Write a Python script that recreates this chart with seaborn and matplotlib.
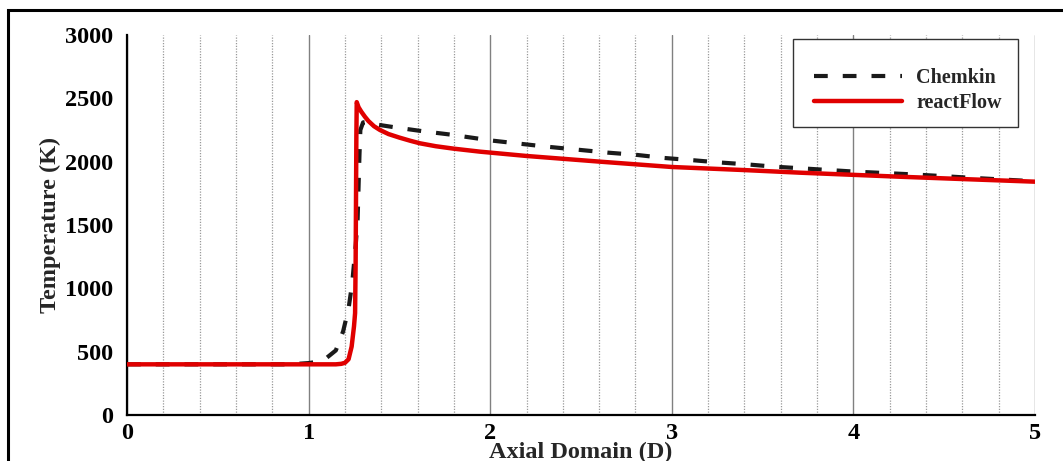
import matplotlib
matplotlib.use("Agg")
import matplotlib.pyplot as plt
from matplotlib.patches import Rectangle
from matplotlib.ticker import MultipleLocator
import numpy as np
import pandas as pd
import seaborn as sns

# Chemkin reference solution: axial position (D) vs temperature (K)
chemkin_x = [0.0, 0.9, 1.0, 1.05, 1.1, 1.15, 1.19, 1.22, 1.24, 1.26, 1.27,
             1.275, 1.28, 1.285, 1.3, 1.33, 1.38, 1.48, 1.63, 1.78, 1.92,
             2.0, 2.3, 2.65, 2.81, 2.96, 3.12, 3.25, 3.41, 3.56, 4.0, 4.32,
             4.48, 4.63, 5.0]
chemkin_T = [400, 400, 410, 420, 452, 510, 660, 840, 1040, 1350, 1550,
             1800, 2050, 2250, 2310, 2316, 2292, 2270, 2240, 2214, 2185,
             2168, 2120, 2071, 2053, 2029, 2011, 1995, 1979, 1961, 1922, 1900,
             1887, 1874, 1845]

# reactFlow solution
react_x = [0.0, 1.1, 1.15, 1.18, 1.2, 1.22, 1.237, 1.25, 1.256, 1.259,
           1.261, 1.263, 1.265, 1.275, 1.29, 1.31, 1.33, 1.36, 1.393,
           1.44, 1.5, 1.56, 1.613, 1.7, 1.797, 1.944, 2.2, 2.605, 3.0,
           3.394, 3.706, 4.257, 4.596, 5.0]
react_T = [400, 400, 400, 404, 412, 440, 540, 700, 805, 1200,
           1700, 2200, 2470, 2430, 2395, 2355, 2320, 2280, 2250,
           2218, 2190, 2165, 2145, 2122, 2103, 2079, 2045, 2000, 1958,
           1934, 1913, 1881, 1863, 1842]

series_names = ["Chemkin", "reactFlow"]
x_ticks = [0, 1, 2, 3, 4, 5]
y_ticks = [0, 500, 1000, 1500, 2000, 2500, 3000]

sns.set_style("white")
plt.rcParams["font.family"] = ["Liberation Serif", "DejaVu Serif"]
plt.rcParams["font.weight"] = "bold"

fig = plt.figure(figsize=(10.63, 4.61), dpi=100)
ax = fig.add_axes([127 / 1063, 1 - 415 / 461, 908 / 1063, 380 / 461])

df_chem = pd.DataFrame({"x": chemkin_x, "T": chemkin_T})
df_react = pd.DataFrame({"x": react_x, "T": react_T})

sns.lineplot(data=df_chem, x="x", y="T", ax=ax, color="#1a1a1a", lw=3,
             linestyle=(0, (3.3, 3.6)), label=series_names[0], zorder=3,
             estimator=None, sort=False)
sns.lineplot(data=df_react, x="x", y="T", ax=ax, color="#e00000", lw=3.2,
             label=series_names[1], zorder=4, estimator=None, sort=False)

ax.set_xlim(0, 5)
ax.set_ylim(0, 3000)
ax.set_xticks(x_ticks)
ax.set_yticks(y_ticks)
ax.xaxis.set_minor_locator(MultipleLocator(0.2))
ax.yaxis.set_minor_locator(MultipleLocator(100))

# vertical grid: solid at integers, dotted at 0.2 steps
ax.grid(False)
ax.xaxis.grid(True, which="major", color="#808080", lw=1.0, ls="-", zorder=0)
ax.xaxis.grid(True, which="minor", color="#999999", lw=0.9, ls=(0, (1, 1.2)), zorder=0)
ax.set_axisbelow(True)

for side in ("top", "right"):
    ax.spines[side].set_visible(False)
for side in ("left", "bottom"):
    ax.spines[side].set_color("black")
    ax.spines[side].set_linewidth(1.6)

ax.tick_params(axis="both", which="major", direction="in", labelsize=17.5,
               width=1.5, colors="black")
ax.tick_params(axis="y", which="major", length=8, pad=10)
ax.tick_params(axis="y", which="minor", direction="in", length=5, width=1.2)
ax.tick_params(axis="x", which="major", length=6, pad=6)
ax.tick_params(axis="x", which="minor", length=0)
for lab in ax.get_xticklabels() + ax.get_yticklabels():
    lab.set_fontweight("bold")

ax.set_xlabel("Axial Domain (D)", fontsize=17.5, fontweight="bold", labelpad=-2)
ax.set_ylabel("Temperature (K)", fontsize=17.5, fontweight="bold", labelpad=3)

# legend box
box = Rectangle((0.733, 0.758), 0.248, 0.231, transform=ax.transAxes,
                facecolor="white", edgecolor="#333333", lw=1.0, zorder=5)
ax.add_patch(box)
leg = ax.legend(loc="center left", bbox_to_anchor=(0.745, 0.855), frameon=False,
                fontsize=14.5, handlelength=4.4, handletextpad=0.7,
                labelspacing=0.25, borderpad=0)
leg.set_zorder(6)
for t in leg.get_texts():
    t.set_fontweight("bold")

# outer frame around the figure
fig.add_artist(Rectangle((8 / 1063, -0.2), 1.2, 1.2 - 10 / 461,
                         transform=fig.transFigure, fill=False,
                         edgecolor="black", lw=2.2))

fig.savefig("out.png", dpi=100)
